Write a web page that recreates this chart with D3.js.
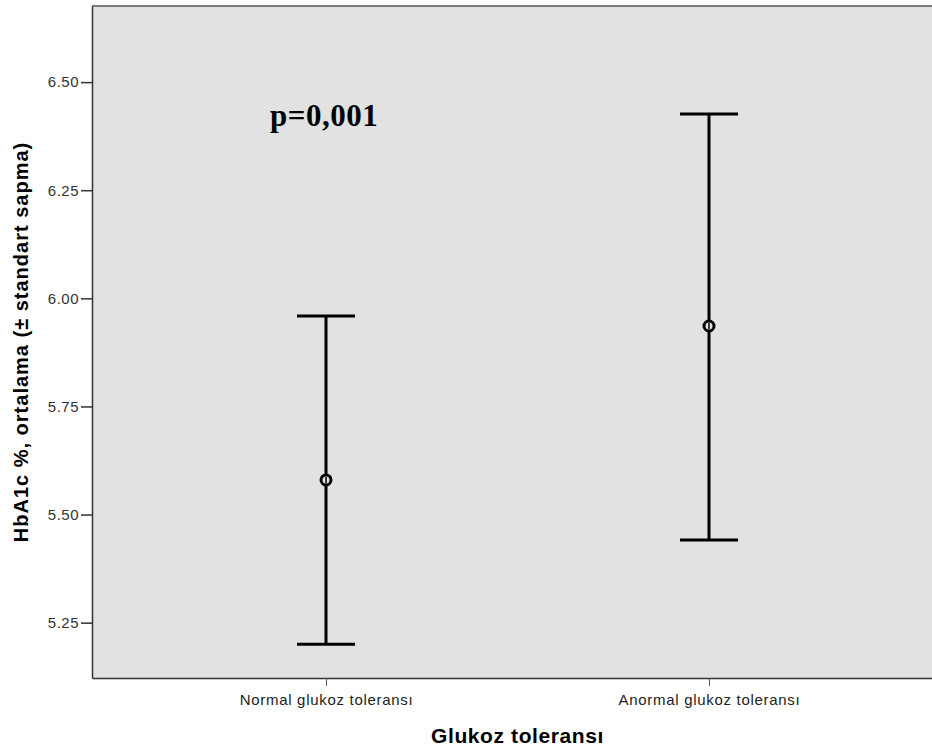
<!DOCTYPE html>
<html>
<head>
<meta charset="utf-8">
<script src="https://cdn.jsdelivr.net/npm/d3@7"></script>
<style>
  body { margin: 0; background: #fff; }
  svg { display: block; font-family: Arial, "Liberation Sans", sans-serif; }
</style>
</head>
<body>
<svg id="chart"></svg>
<script>
// groups and their mean +- sd values
var groups = ["Normal glukoz toleransı", "Anormal glukoz toleransı"];
var means = [5.580, 5.936];
var upper = [5.959, 6.426];
var lower = [5.200, 5.441];
var yTicks = [5.25, 5.50, 5.75, 6.00, 6.25, 6.50];

// set the dimensions and margins of the graph
var margin = {top: 6, right: -11, bottom: 76, left: 92},
    width = 932 - margin.left - margin.right,
    height = 754 - margin.top - margin.bottom;

var svg = d3.select("#chart")
    .attr("width", 932)
    .attr("height", 754)
    .append("g")
    .attr("transform", "translate(" + margin.left + "," + margin.top + ")");

// plot background
svg.append("rect")
    .attr("x", 0)
    .attr("y", 0)
    .attr("width", width)
    .attr("height", height)
    .style("fill", "#e2e2e2");

// top border
svg.append("line")
    .attr("x1", 0).attr("x2", width)
    .attr("y1", 0).attr("y2", 0)
    .attr("stroke", "#7a7a7a")
    .attr("stroke-width", 2);

// x scale
var x = d3.scalePoint()
    .domain(groups)
    .range([0, width])
    .padding(0.611);

// y scale
var y = d3.scaleLinear()
    .domain([5.122, 6.676])
    .range([height, 0]);

// x axis
var xAxis = svg.append("g")
    .attr("transform", "translate(0," + height + ")")
    .call(d3.axisBottom(x).tickSize(8).tickSizeOuter(0).tickPadding(8));
xAxis.select(".domain").attr("stroke", "#333").attr("stroke-width", 1.5);
xAxis.selectAll(".tick line").attr("stroke", "#555");
xAxis.selectAll("text")
    .style("font-size", "15px")
    .style("letter-spacing", "0.7px")
    .attr("fill", "#222");

// y axis
var yAxis = svg.append("g")
    .call(d3.axisLeft(y).tickValues(yTicks).tickFormat(d3.format(".2f"))
        .tickSize(11).tickSizeOuter(0).tickPadding(2));
yAxis.select(".domain").attr("stroke", "#333").attr("stroke-width", 1.5);
yAxis.selectAll(".tick line").attr("stroke", "#333").attr("stroke-width", 1.5);
yAxis.selectAll("text")
    .style("font-size", "15px")
    .style("letter-spacing", "0.5px")
    .attr("fill", "#333");

// axis titles
svg.append("text")
    .attr("x", 517.5 - margin.left)
    .attr("y", height + 65)
    .attr("text-anchor", "middle")
    .style("font-size", "21px")
    .style("letter-spacing", "0.6px")
    .style("font-weight", "bold")
    .text("Glukoz toleransı");

svg.append("text")
    .attr("transform", "rotate(-90)")
    .attr("x", -height / 2)
    .attr("y", -64)
    .attr("text-anchor", "middle")
    .style("font-size", "20px")
    .style("letter-spacing", "1px")
    .style("font-weight", "bold")
    .text("HbA1c %, ortalama (± standart sapma)");

// error bars
var data = groups.map(function (g, i) {
    return {group: g, mean: means[i], hi: upper[i], lo: lower[i]};
});
var capHalf = 29;

var bars = svg.selectAll(".bar")
    .data(data)
    .enter()
    .append("g")
    .attr("class", "bar");

bars.append("line")
    .attr("x1", d => x(d.group)).attr("x2", d => x(d.group))
    .attr("y1", d => y(d.hi)).attr("y2", d => y(d.lo))
    .attr("stroke", "#000").attr("stroke-width", 3);

bars.append("line")
    .attr("x1", d => x(d.group) - capHalf).attr("x2", d => x(d.group) + capHalf)
    .attr("y1", d => y(d.hi)).attr("y2", d => y(d.hi))
    .attr("stroke", "#000").attr("stroke-width", 3);

bars.append("line")
    .attr("x1", d => x(d.group) - capHalf).attr("x2", d => x(d.group) + capHalf)
    .attr("y1", d => y(d.lo)).attr("y2", d => y(d.lo))
    .attr("stroke", "#000").attr("stroke-width", 3);

bars.append("circle")
    .attr("cx", d => x(d.group))
    .attr("cy", d => y(d.mean))
    .attr("r", 5)
    .attr("fill", "#e2e2e2")
    .attr("stroke", "#000")
    .attr("stroke-width", 3);

bars.append("line")
    .attr("x1", d => x(d.group)).attr("x2", d => x(d.group))
    .attr("y1", d => y(d.mean) - 3).attr("y2", d => y(d.mean) + 3)
    .attr("stroke", "#000").attr("stroke-width", 1.5);

// p value annotation
svg.append("text")
    .attr("x", 270 - margin.left)
    .attr("y", 126 - margin.top)
    .style("font-family", "'Liberation Serif', 'Times New Roman', serif")
    .style("font-size", "31px")
    .style("letter-spacing", "0.5px")
    .style("font-weight", "bold")
    .text("p=0,001");
</script>
</body>
</html>
